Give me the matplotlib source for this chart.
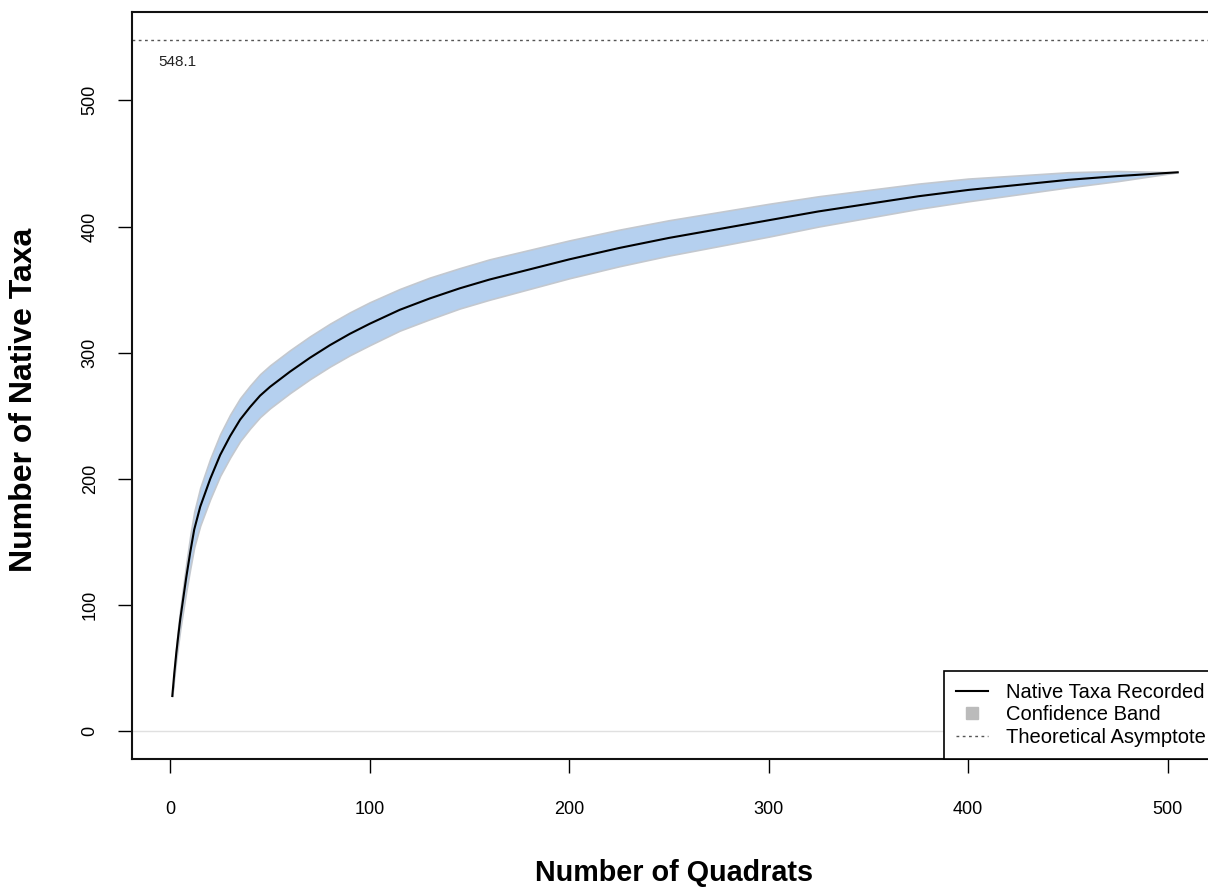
import matplotlib
matplotlib.use('Agg')
import matplotlib.pyplot as plt
import numpy as np
from matplotlib.lines import Line2D

plt.rcParams['font.family'] = ['Liberation Sans', 'DejaVu Sans']

# rarefaction curve
quadrats = [1, 2, 3, 4, 5, 6, 8, 10, 12, 15, 20, 25, 30, 35, 40, 45, 50, 60, 70, 80, 90, 100,
            115, 130, 145, 160, 180, 200, 225, 250, 275, 300, 325, 350, 375, 400, 425, 450, 475, 505]
taxa = [28, 46, 62, 76, 89, 100, 122, 142, 160, 178, 200, 219, 234, 247, 257, 266, 273, 285, 296, 306,
        315, 323, 334, 343, 351, 358, 366, 374, 383, 391, 398, 405, 412, 418, 424, 429, 433, 437, 440, 443]
half_width = [0, 3, 5, 7, 8, 9, 11, 13, 14, 15, 16, 16.5, 17, 17, 17, 17, 17, 17, 17, 17,
              17, 17, 16.5, 16.5, 16, 16, 15.5, 15, 14.5, 14, 13.5, 13, 12, 11, 10, 9, 7.5, 6, 4, 0]
asymptote = 548.1

x = np.array(quadrats)
y = np.array(taxa)
hw = np.array(half_width)

fig = plt.figure(figsize=(12.08, 8.88), dpi=100)
ax = fig.add_axes([132/1208, 129/888, (1218-132)/1208, (759-12)/888])

ax.axhline(0, color='#e0e0e0', lw=1, zorder=0)
ax.fill_between(x, y - hw, y + hw, color='#b5d0ef', edgecolor='#c3c8cf', lw=1.2, zorder=1)
ax.plot(x, y, color='black', lw=1.5, zorder=3)
ax.axhline(asymptote, color='#555555', lw=1, ls=(0, (2, 2.5)), zorder=2)
ax.text(-6, asymptote - 18, '548.1', fontsize=11, color='#222222', ha='left', va='center')

ax.set_xlim(-19.2, 525.2)
ax.set_ylim(-21.9, 570.0)
ax.set_xticks([0, 100, 200, 300, 400, 500])
ax.set_yticks([0, 100, 200, 300, 400, 500])
ax.tick_params(axis='both', direction='out', length=10, width=1, labelsize=13, colors='black')
ax.tick_params(axis='x', pad=20)
ax.tick_params(axis='y', pad=14)
for lab in ax.get_yticklabels():
    lab.set_rotation(90)
    lab.set_va('center')
for s in ax.spines.values():
    s.set_linewidth(1.5)
    s.set_color('#111111')

ax.set_xlabel('Number of Quadrats', fontsize=20.7, fontweight='bold', va='center')
ax.set_ylabel('Number of Native Taxa', fontsize=23, fontweight='bold', va='center')
ax.xaxis.set_label_coords(0.5 - 1/1086, (759 - 873) / 747)
ax.yaxis.set_label_coords((24 - 132) / 1086, (759 - 400) / 747)

handles = [
    Line2D([0], [0], color='black', lw=1.5),
    Line2D([0], [0], color='#bbbbbb', marker='s', ls='none', markersize=9),
    Line2D([0], [0], color='#555555', lw=1, ls=(0, (2, 2.5))),
]
labels = ['Native Taxa Recorded', 'Confidence Band', 'Theoretical Asymptote']
leg = ax.legend(handles, labels, loc='lower right', borderaxespad=0, fontsize=14.5,
                fancybox=False, framealpha=1, edgecolor='black', handlelength=1.6,
                handletextpad=0.9, labelspacing=0.18, borderpad=0.6)
leg.get_frame().set_linewidth(1.2)

fig.savefig('out.png', dpi=100)
